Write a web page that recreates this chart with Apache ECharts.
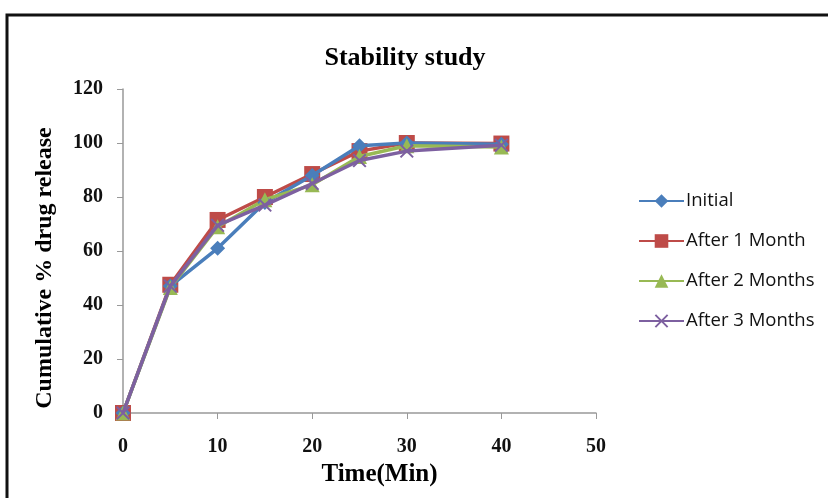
<!DOCTYPE html>
<html><head><meta charset="utf-8">
<script src="https://cdn.jsdelivr.net/npm/echarts@6/dist/echarts.min.js"></script>
<style>html,body{margin:0;padding:0;background:#fff}#c{width:828px;height:498px}</style>
</head><body><div id="c"></div>
<script>
const times = [0, 5, 10, 15, 20, 25, 30, 40];
const seriesNames = ['Initial', 'After 1 Month', 'After 2 Months', 'After 3 Months'];
const initial = [0, 47, 61, 78, 88, 99, 100, 99.5];
const after1 = [0, 47.5, 71.5, 80, 88.5, 97, 100, 99.8];
const after2 = [0, 46.5, 69, 79, 84.5, 95, 99, 98.5];
const after3 = [0, 47, 69.5, 77, 85, 93.5, 97, 99.2];
const xTicks = [0, 10, 20, 30, 40, 50];
const yTicks = [0, 20, 40, 60, 80, 100, 120];

const colors = ['#4a7ebb', '#be4b48', '#98b954', '#7d60a0'];
const symbols = ['diamond', 'rect', 'triangle',
  'path://M0,1L1,0L5,4L9,0L10,1L6,5L10,9L9,10L5,6L1,10L0,9L4,5Z'];
const sizes = [15, 16, 15, 14];
const data = [initial, after1, after2, after3];

const chart = echarts.init(document.getElementById('c'), null, {renderer: 'canvas'});
const serif = '"Liberation Serif", "DejaVu Serif", serif';
chart.setOption({
  animation: false,
  graphic: [{
    type: 'rect', shape: {x: 7, y: 15, width: 830, height: 490},
    style: {fill: 'none', stroke: '#111', lineWidth: 3}, z: -1
  }],
  title: {
    text: 'Stability study', left: 400, top: 40, textAlign: 'center',
    textStyle: {fontFamily: serif, fontWeight: 'bold', fontSize: 26, color: '#000'}
  },
  legend: {
    orient: 'vertical', left: 633, top: 186, itemGap: 20,
    itemWidth: 45, itemHeight: 17,
    textStyle: {fontFamily: '"Open Sans", sans-serif', fontSize: 18.5, color: '#111', lineHeight: 20, padding: [0, 0, 0, -3]},
    data: seriesNames
  },
  grid: {left: 123, right: 232, top: 89, bottom: 85},
  xAxis: {
    type: 'value', min: 0, max: 50, interval: 10,
    name: 'Time(Min)', nameLocation: 'middle', nameGap: 42,
    nameTextStyle: {fontFamily: serif, fontWeight: 'bold', fontSize: 25, color: '#000', padding: [0, 0, 0, 40]},
    axisLine: {lineStyle: {color: '#999', width: 1.5}},
    axisTick: {show: true, length: 6, lineStyle: {color: '#999'}},
    axisLabel: {fontFamily: serif, fontWeight: 'bold', fontSize: 20, color: '#111', margin: 24,
      formatter: v => xTicks.includes(v) ? String(v) : ''},
    splitLine: {show: false}
  },
  yAxis: {
    type: 'value', min: 0, max: 120, interval: 20,
    name: 'Cumulative % drug release', nameLocation: 'middle', nameGap: 66,
    nameTextStyle: {fontFamily: serif, fontWeight: 'bold', fontSize: 24, color: '#000', padding: [0, 34, 0, 0]},
    axisLine: {show: true, lineStyle: {color: '#999', width: 1.5}},
    axisTick: {show: true, length: 6, lineStyle: {color: '#999'}},
    axisLabel: {fontFamily: serif, fontWeight: 'bold', fontSize: 20, color: '#111', margin: 20,
      formatter: v => yTicks.includes(v) ? String(v) : ''},
    splitLine: {show: false}
  },
  series: seriesNames.map((n, i) => ({
    name: n, type: 'line',
    data: times.map((t, j) => [t, data[i][j]]),
    symbol: symbols[i], symbolSize: sizes[i], showAllSymbol: true,
    lineStyle: {color: colors[i], width: 3.5},
    itemStyle: {color: colors[i]},
    z: i === 1 ? 2 : (i === 3 ? 4 : 3)
  }))
});
</script></body></html>
